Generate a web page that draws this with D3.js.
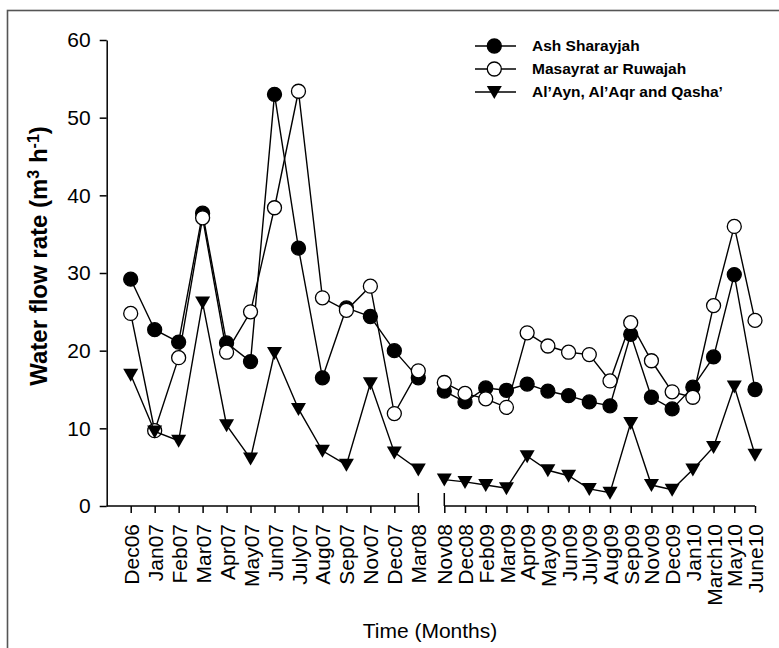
<!DOCTYPE html>
<html><head><meta charset="utf-8">
<script src="https://cdn.jsdelivr.net/npm/d3@7"></script>
<style>body{margin:0;background:#fff}svg{display:block}text{font-family:Arial,"Liberation Sans",sans-serif}</style>
</head><body>
<script>
const seg1 = ["Dec06","Jan07","Feb07","Mar07","Apr07","May07","Jun07","July07","Aug07","Sep07","Nov07","Dec07","Mar08"];
const seg2 = ["Nov08","Dec08","Feb09","Mar09","Apr09","May09","Jun09","July09","Aug09","Sep09","Nov09","Dec09","Jan10","March10","May10","June10"];
const ash1 = [29.2,22.7,21.1,37.7,21.0,18.6,53.0,33.2,16.5,25.5,24.4,20.0,16.5];
const ash2 = [14.8,13.4,15.2,14.9,15.7,14.8,14.2,13.4,12.9,22.1,14.0,12.5,15.3,19.2,29.8,15.0];
const mas1 = [24.8,9.7,19.1,37.1,19.8,25.0,38.4,53.4,26.8,25.2,28.3,11.9,17.4];
const mas2 = [15.9,14.5,13.8,12.7,22.3,20.6,19.8,19.5,16.1,23.6,18.7,14.7,14.0,25.8,36.0,23.9];
const ayn1 = [16.9,9.6,8.4,26.2,10.4,6.1,19.7,12.5,7.1,5.3,15.8,6.9,4.7];
const ayn2 = [3.4,3.1,2.7,2.3,6.4,4.6,3.9,2.2,1.7,10.7,2.7,2.1,4.7,7.6,15.4,6.6];
const yTicks = [0,10,20,30,40,50,60];
const seriesNames = ["Ash Sharayjah","Masayrat ar Ruwajah","Al\u2019Ayn, Al\u2019Aqr and Qasha\u2019"];

const W = 779, H = 648;
const svg = d3.select("body").append("svg").attr("width", W).attr("height", H);

svg.append("rect").attr("x",7.5).attr("y",10.5).attr("width",800).attr("height",700)
  .attr("fill","none").attr("stroke","#555").attr("stroke-width",1.6);

const y = d3.scaleLinear().domain([0,60]).range([506,40]);
const x1 = d3.scalePoint().domain(seg1).range([130.7,418.3]);
const x2 = d3.scalePoint().domain(seg2).range([444.3,755]);
const axX = 106.7;

// y axis
const ya = svg.append("g").attr("transform",`translate(${axX},0)`)
  .call(d3.axisLeft(y).tickValues(yTicks).tickSize(7).tickSizeOuter(0).tickPadding(9));
ya.select(".domain").attr("stroke-width",1.5);
ya.selectAll(".tick line").attr("stroke-width",1.5);
ya.selectAll(".tick text").attr("font-size",21).attr("font-family","Arial, Liberation Sans, sans-serif").attr("fill","#000");

function xAxis(scale, cats, x0, x1e){
  const g = svg.append("g").attr("transform",`translate(0,${y(0)})`)
    .call(d3.axisBottom(scale).tickSize(7).tickSizeOuter(0).tickPadding(0));
  g.select(".domain").remove();
  g.selectAll(".tick line").attr("stroke-width",1.5);
  g.append("line").attr("x1",x0).attr("x2",x1e).attr("y1",0).attr("y2",0).attr("stroke","#000").attr("stroke-width",1.5);
  g.selectAll(".tick text").attr("font-size",21).attr("font-family","Arial, Liberation Sans, sans-serif").attr("fill","#000")
    .attr("transform","rotate(-90)").attr("text-anchor","end").attr("dy","0.36em").attr("x",-18).attr("y",0);
  return g;
}
const g1 = xAxis(x1, seg1, axX, x1(seg1[seg1.length-1]));
g1.append("line").attr("x1",x1("Mar08")).attr("x2",x1("Mar08")).attr("y1",-13).attr("y2",0).attr("stroke","#000").attr("stroke-width",1.5);
const g2 = xAxis(x2, seg2, x2(seg2[0]), x2(seg2[seg2.length-1]));
g2.append("line").attr("x1",x2("Nov08")).attr("x2",x2("Nov08")).attr("y1",-13).attr("y2",0).attr("stroke","#000").attr("stroke-width",1.5);

// titles
svg.append("text").attr("transform",`translate(47,256) rotate(-90)`).attr("text-anchor","middle")
  .attr("font-size",24).attr("font-weight","bold")
  .html('Water flow rate (m<tspan baseline-shift="super" font-size="16">3</tspan> h<tspan baseline-shift="super" font-size="16">-1</tspan>)');
svg.append("text").attr("x",430).attr("y",638).attr("text-anchor","middle").attr("font-size",21).text("Time (Months)");

const triPath = "M-7.5,-6L7.5,-6L0,7Z";
function drawSeries(vals1, vals2, type){
  [[x1,seg1,vals1],[x2,seg2,vals2]].forEach(([sc,cats,vals])=>{
    const pts = cats.map((c,i)=>[sc(c), y(vals[i])]);
    svg.append("path").attr("d", d3.line()(pts)).attr("fill","none").attr("stroke","#000").attr("stroke-width",1.4);
    pts.forEach(p=>drawMarker(p[0],p[1],type));
  });
}
function drawMarker(cx,cy,type){
  if(type==="tri"){
    svg.append("path").attr("d",triPath).attr("transform",`translate(${cx},${cy})`).attr("fill","#000");
  } else {
    svg.append("circle").attr("cx",cx).attr("cy",cy).attr("r",7)
      .attr("fill", type==="filled" ? "#000" : "#fff").attr("stroke","#000").attr("stroke-width",1.3);
  }
}
drawSeries(ash1, ash2, "filled");
drawSeries(mas1, mas2, "open");
drawSeries(ayn1, ayn2, "tri");

// legend
const legRows = [46,69,92];
const types = ["filled","open","tri"];
seriesNames.forEach((n,i)=>{
  const ly = legRows[i];
  svg.append("line").attr("x1",475).attr("x2",516).attr("y1",ly).attr("y2",ly).attr("stroke","#000").attr("stroke-width",1.4);
  drawMarker(494.3, ly, types[i]);
  svg.append("text").attr("x",532).attr("y",ly).attr("dy","0.35em").attr("font-size",15.5).attr("font-weight","bold").text(n);
});
</script>
</body></html>
